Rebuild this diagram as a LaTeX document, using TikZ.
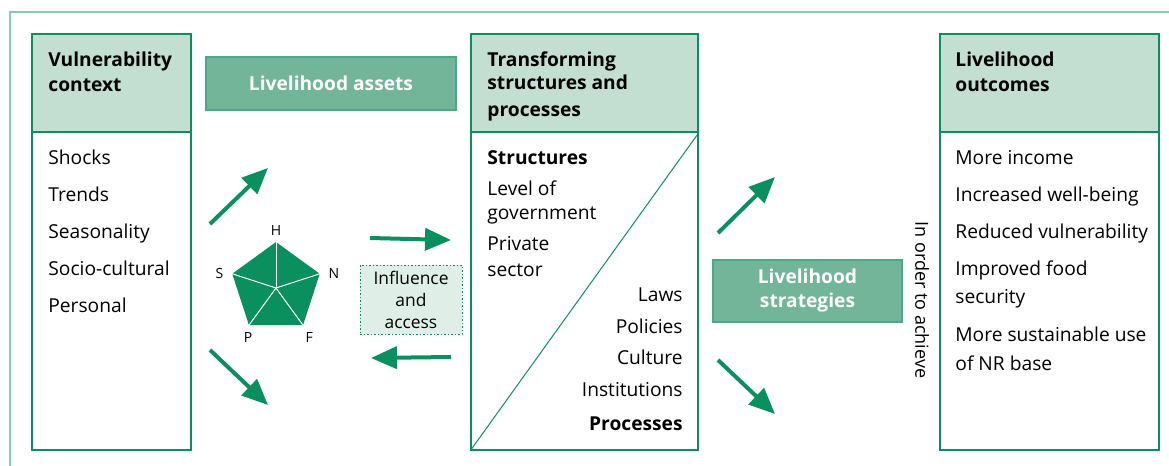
\documentclass[tikz,border=0pt]{standalone}
\usepackage{fontspec}
\setmainfont{Open Sans}
\usetikzlibrary{arrows.meta,positioning,shapes.geometric}
\definecolor{slgreen}{HTML}{0A8F5E}
\definecolor{slhead}{HTML}{C2DFD1}
\definecolor{slasset}{HTML}{72B598}
\definecolor{slframe}{HTML}{8CCAAB}
\definecolor{slpale}{HTML}{DFEEE6}
\newcommand{\bodysize}{\fontsize{9.6}{11}\selectfont}
\tikzset{
  column/.style={draw=slgreen,line width=0.75pt,inner sep=0pt,minimum height=208pt},
  colhead/.style={draw=slgreen,fill=slhead,line width=0.75pt,inner sep=0pt,
    minimum height=49pt,anchor=north},
  headtext/.style={font=\bodysize\bfseries,anchor=base west,inner sep=0pt},
  itemtext/.style={anchor=base west,inner sep=0pt},
  greenbox/.style={draw=slgreen!75,fill=slasset,text=white,line width=0.75pt,
    font=\fontsize{9.6}{12}\selectfont\bfseries,align=center,inner sep=0pt},
  bigarrow/.style={-{Triangle[length=13pt,width=11pt]},line width=2pt,draw=slgreen},
  pentlabel/.style={font=\fontsize{7}{7}\selectfont,inner sep=0pt}
}

\begin{document}
\begin{tikzpicture}[x=0.5pt,y=-0.5pt,font=\bodysize]
  \useasboundingbox (0,0) rectangle (1169,466);
  % frame
  \draw[slframe,line width=0.7pt] (10,470)--(10,12)--(1175,12);

  % vulnerability context
  \node[column,minimum width=79.5pt] (vul) at (111.5,242) {};
  \node[colhead,minimum width=79.5pt] (vulhead) at (vul.north) {};
  \node[headtext] (vult1) at (48,66) {Vulnerability};
  \node[headtext] (vult2) at (48,91) {context};
  \foreach \txt/\yy [count=\i] in {Shocks/164,Trends/201,Seasonality/238,
      Socio-cultural/275,Personal/312}
    \node[itemtext] (vi\i) at (48,\yy) {\txt};

  % livelihood assets
  \node[greenbox,minimum width=125pt,minimum height=26.5pt] (assets) at (331,83.5)
    {Livelihood assets};
  \node[regular polygon,regular polygon sides=5,minimum size=46pt,inner sep=0pt,
    fill=slgreen] (pent) at (276,288) {};
  \foreach \k in {1,...,5}
    \draw[white,line width=0.5pt] (pent.center) -- (pent.corner \k);
  \node[pentlabel,above=3pt of pent.corner 1] (lh) {H};
  \node[pentlabel,left=4pt of pent.corner 2] (ls) {S};
  \node[pentlabel,below left=3pt and -2pt of pent.corner 3] (lp) {P};
  \node[pentlabel,below right=3pt and 1pt of pent.corner 4] (lf) {F};
  \node[pentlabel,right=4pt of pent.corner 5] (ln) {N};

  % influence and access
  \node[greenbox,fill=slpale,text=black,draw=slgreen,densely dotted,line width=0.5pt,
    font=\fontsize{8.7}{11}\selectfont,minimum width=51pt,minimum height=34.5pt]
    (infl) at (411,299.5) {Influence\\and\\access};

  % transforming structures and processes
  \node[column,minimum width=113.5pt] (trans) at (584.5,242) {};
  \node[colhead,minimum width=113.5pt] (transhead) at (trans.north) {};
  \draw[slgreen,line width=0.5pt] (transhead.south east) -- (trans.south west);
  \node[headtext] (tt1) at (487,66) {Transforming};
  \node[headtext] (tt2) at (487,90) {structures and};
  \node[headtext] (tt3) at (487,116) {processes};
  \node[headtext] (ts1) at (487,164) {Structures};
  \foreach \txt/\yy [count=\i] in {Level of/195,government/219,Private/250,sector/276}
    \node[itemtext] (tl\i) at (487,\yy) {\txt};
  \foreach \txt/\yy [count=\i] in {Laws/301,Policies/333,Culture/364,Institutions/396}
    \node[anchor=base east,inner sep=0pt] (tr\i) at (683,\yy) {\txt};
  \node[headtext,anchor=base east] (tp) at (683,430) {Processes};

  % livelihood strategies
  \node[greenbox,minimum width=94.5pt,minimum height=31pt] (strat) at (807.5,291)
    {Livelihood\\strategies};
  \node[rotate=-90,inner sep=0pt,font=\fontsize{9}{11}\selectfont] (achieve) at (922,300)
    {In order to achieve};

  % livelihood outcomes
  \node[column,minimum width=109.5pt] (out) at (1049.5,242) {};
  \node[colhead,minimum width=109.5pt] (outhead) at (out.north) {};
  \node[headtext] (ot1) at (955,66) {Livelihood};
  \node[headtext] (ot2) at (955,91) {outcomes};
  \foreach \txt/\yy [count=\i] in {More income/164,Increased well-being/201,
      Reduced vulnerability/238,Improved food/275,security/303,
      More sustainable use/341,of NR base/370}
    \node[itemtext] (oi\i) at (955,\yy) {\txt};

  % arrows
  \draw[bigarrow] (210,224) -- (268,168);
  \draw[bigarrow] (210,350) -- (268,405);
  \draw[bigarrow] (370,238) -- (451,240);
  \draw[bigarrow] (451,357) -- (371,358);
  \draw[bigarrow] (718,233) -- (775,177);
  \draw[bigarrow] (718,360) -- (775,414);
\end{tikzpicture}
\end{document}
